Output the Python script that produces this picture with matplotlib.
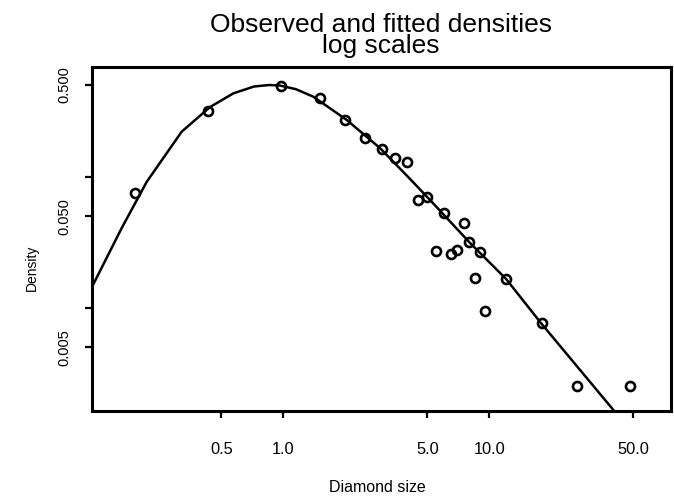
import matplotlib
matplotlib.use("Agg")
import matplotlib.pyplot as plt

plt.rcParams['font.family'] = ['Liberation Sans', 'DejaVu Sans']

# observed densities (diamond size, density)
size_obs = [0.19, 0.43, 0.97, 1.5, 2.0, 2.5, 3.0, 3.5, 4.0, 4.5, 5.0, 5.5,
            6.0, 6.5, 7.0, 7.5, 8.0, 8.5, 9.0, 9.5, 12.0, 18.0, 26.5, 48.0]
dens_obs = [0.0748, 0.317, 0.494, 0.396, 0.269, 0.198, 0.163, 0.140, 0.130,
            0.0665, 0.0695, 0.0272, 0.053, 0.0257, 0.0277, 0.0443, 0.0317,
            0.0169, 0.0269, 0.0095, 0.0167, 0.00774, 0.00255, 0.00255]

# fitted density
size_fit = [0.11, 0.164, 0.217, 0.321, 0.441, 0.572, 0.64, 0.72, 0.85, 0.96,
            1.15, 1.40, 2.03, 2.95, 4.05, 5.06, 8.06, 12.05, 17.9, 40.4, 50.0]
dens_fit = [0.0117, 0.0405, 0.0913, 0.2205, 0.34, 0.432, 0.458, 0.487, 0.50,
            0.496, 0.465, 0.407, 0.271, 0.165, 0.099, 0.0686, 0.0313,
            0.01666, 0.0076, 0.00164, 0.00111]

xticks = [0.5, 1.0, 5.0, 10.0, 50.0]
xlabels = ["0.5", "1.0", "5.0", "10.0", "50.0"]
yticks = [0.005, 0.01, 0.05, 0.1, 0.5]
ylabels = ["0.005", "", "0.050", "", "0.500"]

W, H = 674, 503
fig = plt.figure(figsize=(W / 100, H / 100), dpi=100)
ax = fig.add_axes([92 / W, 1 - 411 / H, (671 - 92) / W, (411 - 67) / H])

ax.plot(size_fit, dens_fit, color="black", lw=1.8)
ax.plot(size_obs, dens_obs, "o", ms=6.5, mfc="none", mec="black", mew=1.9)

ax.set_xscale("log")
ax.set_yscale("log")
ax.set_xlim(0.1178, 76.2)
ax.set_ylim(0.00164, 0.686)
ax.minorticks_off()

ax.set_xticks(xticks)
ax.set_xticklabels(xlabels, fontsize=11.8)
ax.set_yticks(yticks)
ax.set_yticklabels(ylabels, fontsize=10.5, rotation=90, va="center")
ax.tick_params(axis="x", length=5, width=1.6, pad=17)
ax.tick_params(axis="y", length=5, width=1.6, pad=10)
for sp in ax.spines.values():
    sp.set_linewidth(2.2)

fig.text(381 / W, 1 - 31.7 / H, "Observed and fitted densities", fontsize=19,
         ha="center", va="baseline")
fig.text(381 / W, 1 - 53.3 / H, "log scales", fontsize=19,
         ha="center", va="baseline")
fig.text(377 / W, 1 - 491.7 / H, "Diamond size", fontsize=11.5,
         ha="center", va="baseline")
fig.text(31.7 / W, 1 - 268 / H, "Density", fontsize=10, rotation=90,
         ha="center", va="center")

fig.savefig("out.png", dpi=100)
plt.close("all")
